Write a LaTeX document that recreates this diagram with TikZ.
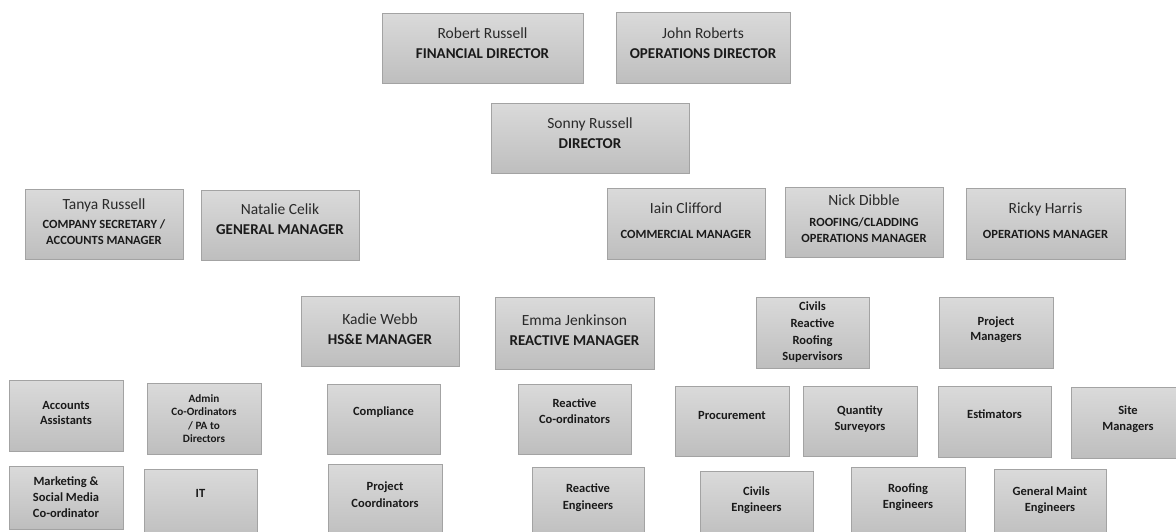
\documentclass[tikz,border=0pt]{standalone}
\usepackage{fontspec}
\setmainfont{Carlito}
\definecolor{boxtop}{HTML}{DADADA}
\definecolor{boxbot}{HTML}{BEBEBE}
\definecolor{boxline}{HTML}{A3A3A3}
\definecolor{namec}{HTML}{2A2A2A}
\definecolor{titlec}{HTML}{1A1A1A}
\tikzset{
  box/.style={draw=boxline, line width=1pt, top color=boxtop, bottom color=boxbot, rectangle, inner sep=0pt},
  nm/.style={font=\fontsize{15.5}{18}\selectfont, text=namec, inner sep=0pt},
  tb/.style={font=\fontsize{15}{18}\selectfont\bfseries, text=titlec, inner sep=0pt},
  ts/.style={font=\fontsize{12.5}{14}\selectfont\bfseries, text=titlec, inner sep=0pt},
  ta/.style={font=\fontsize{11.2}{13}\selectfont\bfseries, text=titlec, inner sep=0pt},
}
\newcommand\bx[5]{\node[box, minimum width={#4-#2}, minimum height={#5-#3}] (#1) at ({(#2+#4)/2},{(#3+#5)/2}) {};}
\newcommand\tx[5]{\node[#4, anchor=mid] (#1) at (#2.center |- 0,#3) {#5};}
\begin{document}
\begin{tikzpicture}[x=1pt,y=-1pt]
\useasboundingbox (0,0) rectangle (1176,531);
\clip (0,0) rectangle (1176,531);
% directors
\bx{rr}{382}{13}{583}{83}
\tx{rr1}{rr}{35.7}{nm}{Robert Russell}
\tx{rr2}{rr}{55.7}{tb}{FINANCIAL DIRECTOR}
\bx{jr}{616}{12}{790}{83}
\tx{jr1}{jr}{36}{nm}{John Roberts}
\tx{jr2}{jr}{56}{tb}{OPERATIONS DIRECTOR}
\bx{sr}{491}{103}{689}{173}
\tx{sr1}{sr}{126}{nm}{Sonny Russell}
\tx{sr2}{sr}{146}{tb}{DIRECTOR}
% managers
\bx{tr}{25}{189}{183}{259}
\tx{tr1}{tr}{207}{nm}{Tanya Russell}
\tx{tr2}{tr}{226}{ts}{COMPANY SECRETARY /}
\tx{tr3}{tr}{242}{ts}{ACCOUNTS MANAGER}
\bx{nc}{201}{190}{359}{260}
\tx{nc1}{nc}{212}{nm}{Natalie Celik}
\tx{nc2}{nc}{232}{tb}{GENERAL MANAGER}
\bx{ic}{607}{188}{765}{259}
\tx{ic1}{ic}{211}{nm}{Iain Clifford}
\tx{ic2}{ic}{236}{ts}{COMMERCIAL MANAGER}
\bx{nd}{785}{187}{943}{257}
\tx{nd1}{nd}{203}{nm}{Nick Dibble}
\tx{nd2}{nd}{224}{ts}{ROOFING/CLADDING}
\tx{nd3}{nd}{240}{ts}{OPERATIONS MANAGER}
\bx{rh}{966}{188}{1125}{259}
\tx{rh1}{rh}{211}{nm}{Ricky Harris}
\tx{rh2}{rh}{236}{ts}{OPERATIONS MANAGER}
% row 4
\bx{kw}{301}{296}{459}{366}
\tx{kw1}{kw}{322}{nm}{Kadie Webb}
\tx{kw2}{kw}{342}{tb}{HS\&E MANAGER}
\bx{ej}{495}{297}{654}{369}
\tx{ej1}{ej}{323}{nm}{Emma Jenkinson}
\tx{ej2}{ej}{343}{tb}{REACTIVE MANAGER}
\bx{cs}{756}{297}{869}{368}
\tx{cs1}{cs}{308}{ts}{Civils}
\tx{cs2}{cs}{325}{ts}{Reactive}
\tx{cs3}{cs}{342}{ts}{Roofing}
\tx{cs4}{cs}{358}{ts}{Supervisors}
\bx{pm}{939}{297}{1053}{368}
\tx{pm1}{pm}{323}{ts}{Project}
\tx{pm2}{pm}{338}{ts}{Managers}
% row 5
\bx{aa}{9}{380}{123}{451}
\tx{aa1}{aa}{407}{ts}{Accounts}
\tx{aa2}{aa}{422}{ts}{Assistants}
\bx{ad}{147}{383}{261}{454}
\tx{ad1}{ad}{400}{ta}{Admin}
\tx{ad2}{ad}{413}{ta}{Co-Ordinators}
\tx{ad3}{ad}{427}{ta}{/ PA to}
\tx{ad4}{ad}{440}{ta}{Directors}
\bx{co}{327}{384}{440}{454}
\tx{co1}{co}{413}{ts}{Compliance}
\bx{rc}{518}{384}{631}{454}
\tx{rc1}{rc}{405}{ts}{Reactive}
\tx{rc2}{rc}{421}{ts}{Co-ordinators}
\bx{pr}{675}{386}{789}{456}
\tx{pr1}{pr}{417}{ts}{Procurement}
\bx{qs}{803}{386}{917}{456}
\tx{qs1}{qs}{412}{ts}{Quantity}
\tx{qs2}{qs}{428}{ts}{Surveyors}
\bx{es}{938}{386}{1051}{457}
\tx{es1}{es}{416}{ts}{Estimators}
\bx{sm}{1071}{387}{1185}{458}
\tx{sm1}{sm}{412}{ts}{Site}
\tx{sm2}{sm}{428}{ts}{Managers}
% row 6
\bx{mk}{9}{466}{123}{529}
\tx{mk1}{mk}{483}{ts}{Marketing \&}
\tx{mk2}{mk}{499}{ts}{Social Media}
\tx{mk3}{mk}{515}{ts}{Co-ordinator}
\bx{it}{144}{469}{257}{540}
\tx{it1}{it}{495}{ts}{IT}
\bx{pc}{328}{464}{442}{540}
\tx{pc1}{pc}{488}{ts}{Project}
\tx{pc2}{pc}{505}{ts}{Coordinators}
\bx{re}{532}{467}{644}{540}
\tx{re1}{re}{490}{ts}{Reactive}
\tx{re2}{re}{507}{ts}{Engineers}
\bx{ce}{700}{471}{813}{540}
\tx{ce1}{ce}{493}{ts}{Civils}
\tx{ce2}{ce}{509}{ts}{Engineers}
\bx{rf}{851}{467}{965}{540}
\tx{rf1}{rf}{490}{ts}{Roofing}
\tx{rf2}{rf}{506}{ts}{Engineers}
\bx{gm}{994}{469}{1106}{540}
\tx{gm1}{gm}{493}{ts}{General Maint}
\tx{gm2}{gm}{509}{ts}{Engineers}
\end{tikzpicture}
\end{document}
